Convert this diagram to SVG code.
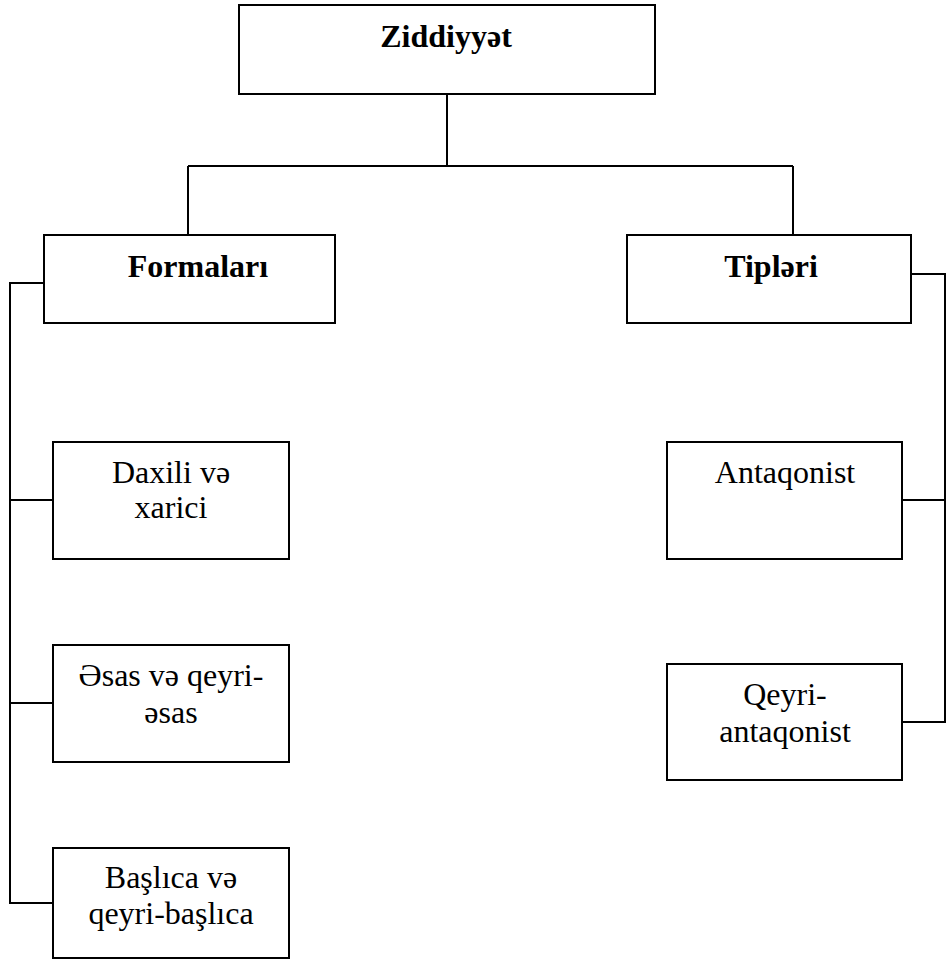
<svg xmlns="http://www.w3.org/2000/svg" width="948" height="965" viewBox="0 0 948 965">
<style>
.box{fill:#fff;stroke:#000;stroke-width:2}
.ln{fill:none;stroke:#000;stroke-width:2}
.t{font-family:"Liberation Serif","DejaVu Serif",serif;font-size:32px;fill:#000;text-anchor:middle}
.b{font-weight:bold}
</style>
<rect width="948" height="965" fill="#fff"/>
<g id="connectors">
<path class="ln" d="M447 95V166M188 166H793M188 166V235M793 166V235"/>
<path class="ln" d="M44 283H10V903H53M10 500H53M10 703H53"/>
<path class="ln" d="M911 274H945V722H902M945 500H902"/>
</g>
<g id="n-ziddiyyet"><rect class="box" x="239" y="5" width="416" height="89"/><text class="t b" x="446" y="47">Ziddiyyət</text></g>
<g id="n-formalari"><rect class="box" x="44" y="235" width="291" height="88"/><text class="t b" x="198" y="277">Formaları</text></g>
<g id="n-tipleri"><rect class="box" x="627" y="235" width="284" height="88"/><text class="t b" x="771" y="277">Tipləri</text></g>
<g id="n-daxili"><rect class="box" x="53" y="442" width="236" height="117"/><text class="t" x="171" y="483">Daxili və</text><text class="t" x="171" y="518">xarici</text></g>
<g id="n-esas"><rect class="box" x="53" y="645" width="236" height="117"/><text class="t" x="171" y="686">Əsas və qeyri-</text><text class="t" x="171" y="723">əsas</text></g>
<g id="n-baslica"><rect class="box" x="53" y="848" width="236" height="110"/><text class="t" x="171" y="888">Başlıca və</text><text class="t" x="171" y="924">qeyri-başlıca</text></g>
<g id="n-antaqonist"><rect class="box" x="667" y="442" width="235" height="117"/><text class="t" x="785" y="483">Antaqonist</text></g>
<g id="n-qeyri"><rect class="box" x="667" y="664" width="235" height="116"/><text class="t" x="785" y="705">Qeyri-</text><text class="t" x="785" y="742">antaqonist</text></g>
</svg>
